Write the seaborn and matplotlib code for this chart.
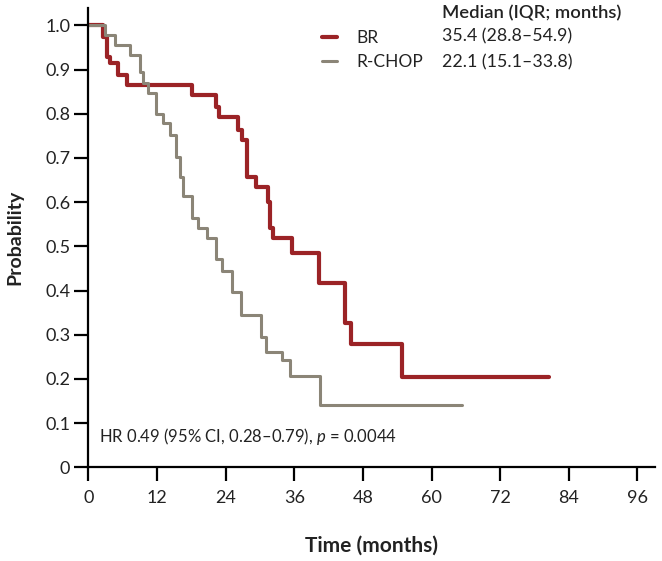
import matplotlib
matplotlib.use('Agg')
import matplotlib.pyplot as plt
import pandas as pd
import seaborn as sns

# Kaplan-Meier steps (months, probability)
br_time = [0, 2.6, 3.2, 3.8, 5.2, 6.7, 18.1, 22.3, 22.9, 26.2, 26.8, 27.7, 29.3, 31.5, 31.8,
           32.3, 35.6, 40.3, 44.9, 45.9, 54.8, 80.5]
br_surv = [1.0, 0.974, 0.929, 0.914, 0.888, 0.865, 0.842, 0.816, 0.792, 0.763, 0.741, 0.657,
           0.635, 0.601, 0.541, 0.519, 0.484, 0.417, 0.326, 0.278, 0.205, 0.205]
rchop_time = [0, 3.0, 4.7, 7.3, 9.0, 9.6, 10.4, 11.9, 13.0, 14.2, 15.3, 16.0, 16.6, 18.2, 19.2,
              20.8, 22.4, 23.3, 25.2, 26.7, 30.2, 31.1, 33.8, 35.3, 40.5, 65.3]
rchop_surv = [1.0, 0.978, 0.955, 0.933, 0.895, 0.869, 0.846, 0.800, 0.778, 0.752, 0.703, 0.657,
              0.614, 0.565, 0.542, 0.518, 0.471, 0.445, 0.397, 0.345, 0.295, 0.262, 0.243, 0.207,
              0.141, 0.141]

arms = ["BR", "R-CHOP"]
medians = ["35.4 (28.8\u201354.9)", "22.1 (15.1\u201333.8)"]
median_title = "Median (IQR; months)"
hr_text = "HR 0.49 (95% CI, 0.28\u20130.79), $p$ = 0.0044"
x_ticks = [0, 12, 24, 36, 48, 60, 72, 84, 96]
y_ticks = [0, 0.1, 0.2, 0.3, 0.4, 0.5, 0.6, 0.7, 0.8, 0.9, 1.0]
y_ticklabels = ["0", "0.1", "0.2", "0.3", "0.4", "0.5", "0.6", "0.7", "0.8", "0.9", "1.0"]

colors = {"BR": "#9b2326", "R-CHOP": "#8b8577"}
widths = {"BR": 3.0, "R-CHOP": 2.2}

sns.set_theme(style='ticks')
plt.rcParams['font.family'] = ['Lato', 'DejaVu Sans']
plt.rcParams['mathtext.fontset'] = 'custom'
plt.rcParams['mathtext.rm'] = 'Lato'
plt.rcParams['mathtext.it'] = 'Lato:italic'

df = pd.concat([
    pd.DataFrame({"time": br_time, "surv": br_surv, "arm": "BR"}),
    pd.DataFrame({"time": rchop_time, "surv": rchop_surv, "arm": "R-CHOP"}),
])

fig = plt.figure(figsize=(6.62, 5.61), dpi=100)
ax = fig.add_axes([0.1334, 0.167, 0.8554, 0.8186])

for arm in arms:
    sns.lineplot(data=df[df["arm"] == arm], x="time", y="surv", ax=ax, color=colors[arm],
                 lw=widths[arm], drawstyle='steps-post', estimator=None, sort=False,
                 label=arm)

ax.set_xlim(0, 99)
ax.set_ylim(0, 1.039)
ax.set_xticks(x_ticks)
ax.set_yticks(y_ticks)
ax.set_yticklabels(y_ticklabels)
ax.tick_params(axis='both', length=10, width=1.6, color='black', labelsize=13,
               labelcolor='#222222')
ax.tick_params(axis='x', pad=6)
ax.tick_params(axis='y', pad=3)
for side in ['left', 'bottom']:
    ax.spines[side].set_linewidth(1.6)
    ax.spines[side].set_color('black')
sns.despine(ax=ax)

ax.set_xlabel("Time (months)", fontsize=15, fontweight='bold', labelpad=22, color='#222222')
ax.set_ylabel("Probability", fontsize=14, fontweight='bold', labelpad=16, color='#222222')

leg = ax.legend(loc='upper left', bbox_to_anchor=(0.412, 0.952), frameon=False, fontsize=12.5,
                handlelength=0.9, handletextpad=1.1, labelspacing=0.45, borderpad=0,
                borderaxespad=0)
for t in leg.get_texts():
    t.set_color('#222222')

ax.text(61.8, 1.027, median_title, fontsize=13.2, fontweight='semibold', va='center',
        color='#222222')
for i, m in enumerate(medians):
    ax.text(61.8, [0.974, 0.917][i], m, fontsize=12.8, va='center', color='#222222')

ax.text(1.9, 0.069, hr_text, fontsize=12, va='center', color='#222222')

fig.savefig('out.png', dpi=100)
